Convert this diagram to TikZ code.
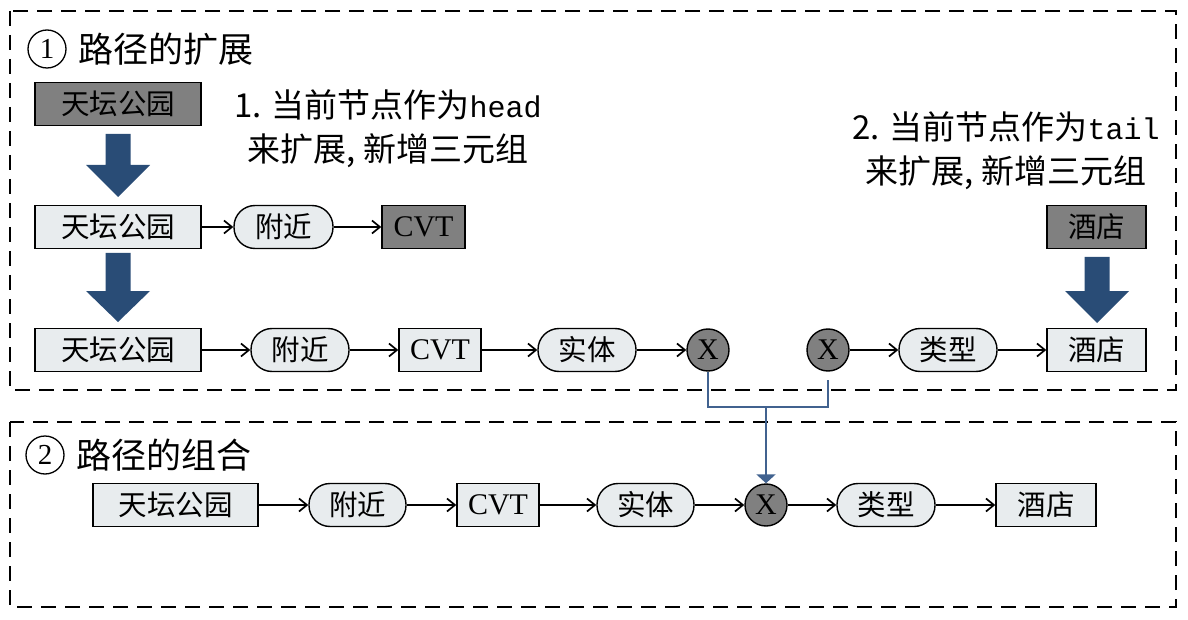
\documentclass[tikz,border=0pt]{standalone}
\usepackage{fontspec}
\setmainfont{Liberation Serif}
\setmonofont{Liberation Mono}
\newfontfamily\cjk{Noto Sans CJK SC}
\usetikzlibrary{arrows.meta}
\definecolor{lightfill}{RGB}{232,236,238}
\definecolor{grayfill}{RGB}{128,128,128}
\definecolor{arrowblue}{RGB}{41,76,118}
\definecolor{lineblue}{RGB}{65,98,143}
\newcommand\bigdown[4]{%
  \fill[arrowblue] (#1-12.5,#2) -- (#1+12.5,#2) -- (#1+12.5,#3) -- (#1+32,#3) -- (#1,#4) -- (#1-32,#3) -- (#1-12.5,#3) -- cycle;}
\begin{document}
\begin{tikzpicture}[x=1pt,y=-1pt,
  rectbox/.style={draw, line width=1.4pt, fill=lightfill, minimum height=43pt, inner sep=0pt, font=\cjk\fontsize{28.5}{30}\selectfont},
  graybox/.style={rectbox, fill=grayfill},
  relbox/.style={rectbox, rounded corners=21pt},
  latin/.style={font=\fontsize{30}{30}\selectfont},
  xnode/.style={circle, draw, line width=1.4pt, fill=grayfill, minimum size=42pt, inner sep=0pt, font=\fontsize{30}{30}\selectfont},
  link/.style={line width=1.7pt, -{Straight Barb[length=8pt,width=13pt,line width=1.7pt]}},
  bluelink/.style={draw=lineblue, line width=2pt},
  region/.style={draw, line width=2pt, dash pattern=on 15pt off 9pt},
  numcircle/.style={circle, draw, line width=1.3pt, minimum size=38pt, inner sep=0pt, font=\fontsize{29}{30}\selectfont},
  title/.style={anchor=west, inner sep=0pt, font=\cjk\fontsize{35}{36}\selectfont},
  desc/.style={align=center, inner sep=0pt, font=\cjk\fontsize{33}{44}\selectfont}
]
\useasboundingbox (0,0) rectangle (1188,620);
% regions
\draw[region] (10,11) rectangle (1176,390);
\draw[region] (10,422) rectangle (1176,607);
% titles
\node[numcircle] (c1) at (47,49) {1};
\node[title] (t1) at (78,49) {路径的扩展};
\node[numcircle] (c2) at (45,455) {2};
\node[title] (t2) at (76,455) {路径的组合};
% descriptions
\node[desc] (d1) at (388,129) {1. 当前节点作为{\ttfamily\fontsize{30}{30}\selectfont head}\\来扩展, 新增三元组};
\node[desc] (d2) at (1006,151) {2. 当前节点作为{\ttfamily\fontsize{30}{30}\selectfont tail}\\来扩展, 新增三元组};
% row 1
\node[graybox, minimum width=166pt] (a0) at (118,104) {天坛公园};
% row 2
\node[rectbox, minimum width=166pt] (b1) at (118,227) {天坛公园};
\node[relbox, minimum width=99pt] (b2) at (283.5,227) {附近};
\node[graybox, latin, minimum width=83pt] (b3) at (423.5,227) {CVT};
\node[graybox, minimum width=99pt] (h0) at (1096.5,227) {酒店};
% row 3
\node[rectbox, minimum width=166pt] (r1) at (118,350) {天坛公园};
\node[relbox, minimum width=98pt] (r2) at (300,350) {附近};
\node[rectbox, latin, minimum width=82pt] (r3) at (440,350) {CVT};
\node[relbox, minimum width=98pt] (r4) at (587,350) {实体};
\node[xnode] (X1) at (708,350) {X};
\node[xnode] (X2) at (828,350) {X};
\node[relbox, minimum width=98pt] (r5) at (948,350) {类型};
\node[rectbox, minimum width=99pt] (r6) at (1096.5,350) {酒店};
% row 4
\node[rectbox, minimum width=165pt] (s1) at (175.5,505) {天坛公园};
\node[relbox, minimum width=97pt] (s2) at (357.5,505) {附近};
\node[rectbox, latin, minimum width=82pt] (s3) at (498,505) {CVT};
\node[relbox, minimum width=97pt] (s4) at (645.5,505) {实体};
\node[xnode] (X3) at (766,505) {X};
\node[relbox, minimum width=98pt] (s5) at (886,505) {类型};
\node[rectbox, minimum width=100pt] (s6) at (1046,505) {酒店};
% big arrows
\bigdown{118}{134}{165}{197}
\bigdown{118}{253}{291}{322}
\bigdown{1097}{257}{291}{323}
% links
\draw[link] (b1) -- (b2);
\draw[link] (b2) -- (b3);
\draw[link] (r1) -- (r2);
\draw[link] (r2) -- (r3);
\draw[link] (r3) -- (r4);
\draw[link] (r4) -- (X1);
\draw[link] (X2) -- (r5);
\draw[link] (r5) -- (r6);
\draw[link] (s1) -- (s2);
\draw[link] (s2) -- (s3);
\draw[link] (s3) -- (s4);
\draw[link] (s4) -- (X3);
\draw[link] (X3) -- (s5);
\draw[link] (s5) -- (s6);
% merge connector
\coordinate (jn) at (766,407);
\coordinate (x2end) at (828,380);
\draw[bluelink] (X1.south) |- (jn) -| (x2end);
\draw[bluelink, -{Triangle[length=9pt,width=19pt]}] (jn) -- (X3.north);
\end{tikzpicture}
\end{document}
